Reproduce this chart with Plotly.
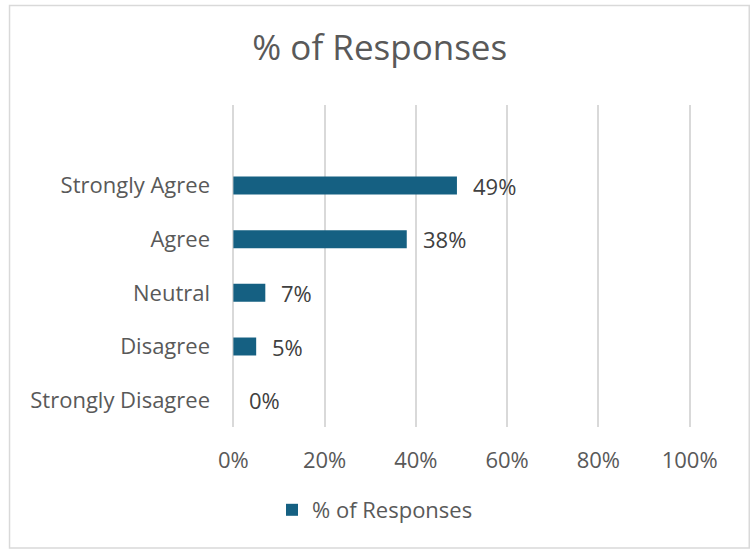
import plotly.graph_objects as go

# Survey response shares (fraction of all responses)
categories = ["Strongly Disagree", "Disagree", "Neutral", "Agree", "Strongly Agree"]
shares = [0.00, 0.05, 0.07, 0.38, 0.49]
x_ticks = [0, 0.2, 0.4, 0.6, 0.8, 1.0]
x_tick_text = ["0%", "20%", "40%", "60%", "80%", "100%"]
series_name = "% of Responses"

BAR = "#156082"
TEXT = "#595959"
LABEL = "#404040"
GRID = "#d9d9d9"
FONT = "Open Sans, Liberation Sans, Arial, sans-serif"

fig = go.Figure()
fig.add_trace(go.Bar(
    y=categories,
    x=shares,
    orientation="h",
    name=series_name,
    marker=dict(color=BAR, line=dict(width=0)),
    width=0.335,
    showlegend=True,
))

# Value labels just past the end of each bar
for cat, v in zip(categories, shares):
    fig.add_annotation(
        x=v, y=cat, xref="x", yref="y",
        text=f"{round(v * 100)}%",
        showarrow=False, xanchor="left", yanchor="middle",
        xshift=14,
        font=dict(size=22, color=LABEL, family=FONT),
    )

fig.update_layout(
    width=752, height=550,
    margin=dict(l=232, r=61, t=105, b=123),
    paper_bgcolor="white",
    plot_bgcolor="white",
    font=dict(family=FONT, color=TEXT),
    title=dict(
        text=series_name,
        x=0.505, xref="container", xanchor="center",
        y=1 - 48 / 550, yref="container", yanchor="middle",
        font=dict(size=35, color=TEXT, family=FONT),
    ),
    xaxis=dict(
        range=[-0.003, 1.003],
        tickvals=x_ticks,
        ticktext=x_tick_text,
        showgrid=True, gridcolor=GRID, gridwidth=2,
        zeroline=False, showline=False,
        ticks="", ticklabelstandoff=18,
        tickfont=dict(size=22, color=TEXT),
    ),
    yaxis=dict(
        type="category",
        categoryorder="array", categoryarray=categories,
        range=[-0.5, 5.5],
        showgrid=False, zeroline=False, showline=False,
        ticks="", ticklabelstandoff=21,
        tickfont=dict(size=22, color=TEXT),
    ),
    legend=dict(
        orientation="h",
        x=272 / 752, xref="container", xanchor="left",
        y=1 - 510 / 550, yref="container", yanchor="middle",
        font=dict(size=22, color=TEXT),
        itemwidth=30,
    ),
)

# Chart-area border
fig.add_shape(
    type="rect", xref="paper", yref="paper",
    x0=(11.5 - 233) / 457, x1=(748 - 233) / 457,
    y0=(427 - 548) / 322, y1=(427 - 5.5) / 322,
    line=dict(color=GRID, width=1.5), fillcolor="rgba(0,0,0,0)", layer="below",
)

fig.write_html("out.html")
